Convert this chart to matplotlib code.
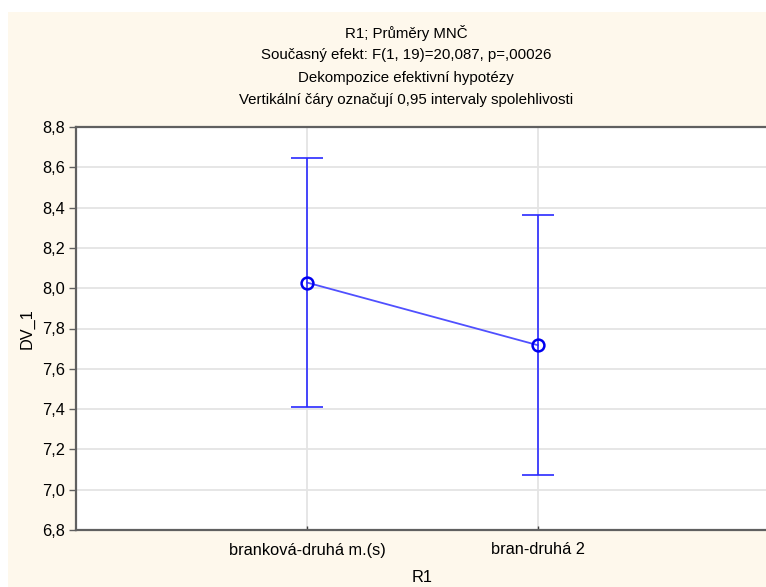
import matplotlib
matplotlib.use("Agg")
import matplotlib.pyplot as plt
from matplotlib.patches import Rectangle
import numpy as np

# means and 0.95 confidence limits per level of R1
categories = ['branková-druhá m.(s)', 'bran-druhá 2']
means = [8.028, 7.717]
ci_low = [7.410, 7.072]
ci_high = [8.646, 8.362]
y_ticks = [6.8, 7.0, 7.2, 7.4, 7.6, 7.8, 8.0, 8.2, 8.4, 8.6, 8.8]

title_lines = ['R1; Průměry MNČ',
               'Současný efekt: F(1, 19)=20,087, p=,00026',
               'Dekompozice efektivní hypotézy',
               'Vertikální čáry označují 0,95 intervaly spolehlivosti']

plt.rcParams['font.family'] = ['Liberation Sans', 'DejaVu Sans']

W, H = 766, 587
fig = plt.figure(figsize=(W / 100, H / 100), dpi=100)
fig.patch.set_facecolor('white')
# cream panel behind everything
fig.patches.append(Rectangle((8 / W, 0), 1, 1 - 12 / H, transform=fig.transFigure,
                             facecolor='#fef8ec', edgecolor='none', zorder=-10))

ax = fig.add_axes([76 / W, 57 / H, 693 / W, 403 / H])
ax.set_facecolor('white')

x = np.arange(1, len(categories) + 1)
m = np.array(means)
yerr = np.vstack([m - np.array(ci_low), np.array(ci_high) - m])

ax.plot(x, m, color='#5050ff', lw=1.3, zorder=3)
ax.errorbar(x, m, yerr=yerr, fmt='none', ecolor='#2a2aff', elinewidth=1.2,
            capsize=11.5, capthick=1.2, zorder=4)
ax.plot(x, m, 'o', ms=8.5, mfc='none', mec='#0000f0', mew=1.8, zorder=5)

ax.set_xlim(0, 3)
ax.set_ylim(6.8, 8.8)
ax.set_xticks(x)
ax.set_xticklabels(categories)
ax.set_yticks(y_ticks)
ax.set_yticklabels([f'{v:.1f}'.replace('.', ',') for v in y_ticks])

ax.grid(True, color='#e4e4e4', lw=1.3)
ax.set_axisbelow(True)
for s in ['left', 'top', 'bottom']:
    ax.spines[s].set_color('#606060')
    ax.spines[s].set_linewidth(1.6)
ax.spines['right'].set_visible(False)

ax.tick_params(axis='y', length=5, width=1, color='#606060', labelsize=11.8, pad=3)
ax.tick_params(axis='x', length=3, direction='in', width=1, color='#404040',
               labelsize=11.8, pad=9)

ax.set_xlabel('R1', fontsize=11.8, labelpad=9)
ax.set_ylabel('DV_1', fontsize=11.8, labelpad=5)

for i, line in enumerate(title_lines):
    fig.text(406 / W, 1 - (33 + 22.3 * i) / H, line, ha='center', va='center',
             fontsize=10.8)

fig.savefig('out.png', dpi=100, facecolor=fig.get_facecolor())
